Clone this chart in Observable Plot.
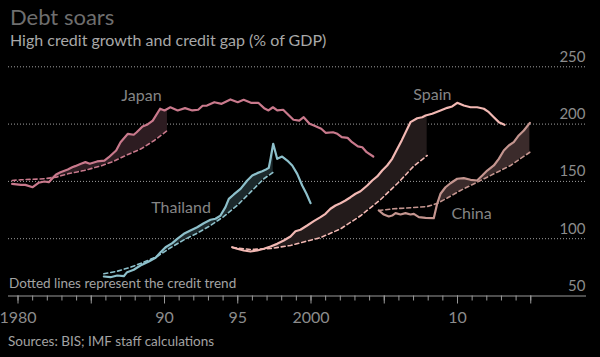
<!DOCTYPE html>
<html><head><meta charset="utf-8">
<script src="https://cdn.jsdelivr.net/npm/d3@7"></script>
<script src="https://cdn.jsdelivr.net/npm/@observablehq/plot@0.6"></script>
<style>
html,body{margin:0;padding:0;background:#000;}
#chart{position:relative;width:600px;height:357px;overflow:hidden;background:#000;}
</style></head><body><div id="chart"></div>
<script>
// [year, % of GDP]
const japanCredit = [[1979.6,147.9],[1980.2,147.0],[1980.5,147.0],[1981.0,144.9],[1981.4,148.8],[1981.8,149.9],[1982.1,149.3],[1982.6,156.0],[1982.9,158.0],[1983.4,160.4],[1983.7,162.4],[1983.9,163.3],[1984.3,165.4],[1984.6,166.8],[1984.9,165.4],[1985.4,167.4],[1985.9,168.2],[1986.2,171.1],[1986.7,177.0],[1987.0,184.2],[1987.5,191.5],[1987.9,190.7],[1988.1,192.9],[1988.5,197.9],[1988.8,199.4],[1989.2,203.1],[1989.7,213.4],[1990.0,211.9],[1990.4,214.7],[1990.9,211.9],[1991.4,213.9],[1991.9,211.9],[1992.3,212.5],[1992.6,216.0],[1992.9,216.2],[1993.4,219.1],[1993.9,217.7],[1994.5,221.5],[1995.0,219.1],[1995.4,221.2],[1995.9,218.6],[1996.4,218.6],[1996.8,213.9],[1997.1,211.9],[1997.4,214.7],[1997.7,211.9],[1998.1,212.5],[1998.5,207.5],[1998.8,203.8],[1999.2,203.1],[1999.5,206.0],[1999.9,200.3],[2000.2,198.8],[2000.7,195.9],[2001.0,192.4],[2001.5,192.9],[2001.8,191.5],[2002.1,188.6],[2002.5,188.0],[2002.8,184.2],[2003.2,180.5],[2003.5,179.8],[2003.8,175.5],[2004.25,171.7]];
const japanTrend = [[1979.6,150.8],[1980.2,151.4],[1981.8,152.3],[1982.6,153.7],[1983.4,156.6],[1984.5,159.5],[1985.6,163.3],[1986.5,167.4],[1987.45,173.2],[1988.4,178.4],[1989.3,185.7],[1990.2,194.4]];

const thailandCredit = [[1985.86,67.0],[1986.31,66.4],[1986.77,67.9],[1987.22,67.3],[1987.45,70.8],[1987.9,72.9],[1988.36,76.6],[1988.93,80.1],[1989.39,83.3],[1989.73,88.2],[1990.07,92.6],[1990.53,96.1],[1990.87,99.9],[1991.32,104.3],[1991.77,107.2],[1992.23,110.0],[1992.68,113.5],[1993.14,116.5],[1993.48,117.4],[1993.82,120.2],[1994.16,127.5],[1994.39,134.8],[1994.73,138.6],[1995.19,143.5],[1995.65,150.8],[1995.99,155.1],[1996.33,157.2],[1996.67,158.9],[1996.89,160.1],[1997.12,161.9],[1997.24,169.7],[1997.42,182.8],[1997.69,169.7],[1998.03,171.7],[1998.38,168.2],[1998.72,163.9],[1999.06,156.6],[1999.4,146.4],[1999.69,139.2],[1999.97,131.0]];
const thailandTrend = [[1985.86,69.4],[1986.77,71.6],[1987.68,75.1],[1988.59,79.5],[1989.5,84.5],[1990.41,92.1],[1991.32,99.0],[1992.23,104.8],[1993.14,111.5],[1994.05,119.4],[1994.96,129.0],[1995.87,140.6],[1996.78,152.3],[1997.42,158.0]];

const spainCredit = [[1994.62,92.6],[1994.96,91.2],[1995.41,89.7],[1995.87,88.8],[1996.33,89.7],[1996.78,91.2],[1997.24,93.2],[1997.69,95.5],[1998.14,98.4],[1998.6,101.9],[1998.94,106.5],[1999.28,107.8],[1999.74,111.5],[2000.19,115.3],[2000.65,118.8],[2000.99,121.7],[2001.33,126.1],[2001.67,129.0],[2002.01,131.0],[2002.35,133.3],[2002.7,136.2],[2003.04,139.2],[2003.38,141.4],[2003.84,146.4],[2004.18,150.8],[2004.52,154.3],[2004.86,159.5],[2005.2,163.9],[2005.54,169.7],[2005.77,175.5],[2006.2,186.0],[2006.79,201.7],[2007.25,205.1],[2007.59,206.0],[2007.82,207.5],[2008.27,209.0],[2008.84,211.9],[2009.3,214.2],[2009.64,215.4],[2009.98,218.6],[2010.43,216.2],[2010.89,214.7],[2011.34,214.7],[2011.8,213.4],[2012.14,210.4],[2012.48,206.0],[2012.82,201.7],[2013.21,199.4]];
const spainTrend = [[1994.64,92.3],[1995.87,90.6],[1997.24,91.4],[1998.6,94.1],[1999.62,97.6],[2000.65,101.0],[2002.01,108.5],[2003.38,120.0],[2004.74,134.0],[2006.04,150.0],[2006.99,163.0],[2007.93,172.6]];

const chinaCredit = [[2004.63,124.6],[2004.97,121.1],[2005.31,119.4],[2005.54,120.2],[2005.77,122.3],[2006.11,121.1],[2006.45,122.3],[2006.79,121.1],[2007.02,121.7],[2007.36,118.8],[2007.82,118.2],[2008.38,117.9],[2008.61,130.5],[2008.84,139.2],[2009.18,144.9],[2009.52,148.4],[2009.98,152.3],[2010.43,152.8],[2010.89,151.4],[2011.34,150.8],[2011.69,155.1],[2012.03,159.5],[2012.48,163.9],[2012.82,169.7],[2013.16,177.0],[2013.5,181.3],[2013.84,184.2],[2014.18,190.1],[2014.53,194.4],[2014.94,201.1]];
const chinaTrend = [[2004.63,124.6],[2005.65,126.1],[2006.79,127.0],[2007.93,128.1],[2008.61,130.7],[2009.3,135.5],[2010.2,142.1],[2011.34,149.3],[2012.48,156.6],[2013.62,163.9],[2014.94,175.5]];

const yTicks = [50, 100, 150, 200, 250];
const xLabelYears = [1980, 1990, 1995, 2000, 2010];
const countryLabels = [
  {name: "Japan", year: 1988.43, value: 220},
  {name: "Thailand", year: 1991.13, value: 122.2},
  {name: "Spain", year: 2008.29, value: 220.6},
  {name: "China", year: 2010.96, value: 117.4}
];

const series = [
  {credit: japanCredit, trend: japanTrend, line: "#c9798c", fill: "#2d1c21"},
  {credit: thailandCredit, trend: thailandTrend, line: "#8dc0cb", fill: "#1c292c"},
  {credit: spainCredit, trend: spainTrend, line: "#f2b8b3", fill: "#231b1b"},
  {credit: chinaCredit, trend: chinaTrend, line: "#c4958f", fill: "#3b2b2b"}
];

function interp(pts, x) {
  if (x <= pts[0][0]) return pts[0][1];
  if (x >= pts[pts.length - 1][0]) return pts[pts.length - 1][1];
  const i = d3.bisector(d => d[0]).right(pts, x);
  const a = pts[i - 1], b = pts[i];
  return a[1] + (b[1] - a[1]) * (x - a[0]) / (b[0] - a[0]);
}
function gapRows(s) {
  const t0 = s.trend[0][0], t1 = s.trend[s.trend.length - 1][0];
  const xs = Array.from(new Set([...s.trend.map(d => d[0]), ...s.credit.map(d => d[0]).filter(x => x > t0 && x < t1)])).sort((a, b) => a - b);
  return xs.map(x => {
    const t = interp(s.trend, x), c = interp(s.credit, x);
    return {x, y1: t, y2: Math.max(c, t)};
  });
}

const marks = [
  Plot.ruleY([100, 150, 200, 250], {stroke: "#a0a0a0", strokeDasharray: "1,2", strokeWidth: 1}),
  Plot.ruleY([50], {stroke: "#9a9a9a", strokeWidth: 1}),
  Plot.axisX(d3.range(1980, 2016), {tickSize: 5, tickFormat: () => "", stroke: "#9a9a9a"}),
  Plot.axisX(d3.range(1980, 2016, 5), {tickSize: 8, tickFormat: () => "", stroke: "#9a9a9a"}),
  Plot.axisX(xLabelYears, {tickSize: 0, tickPadding: 16, fontSize: 16, fill: "#8c8c8c",
    tickFormat: d => (d === 1980 || d === 2000) ? String(d) : String(d).slice(2)}),
  Plot.text(yTicks, {y: d => d, text: d => String(d), frameAnchor: "right", textAnchor: "end", lineAnchor: "bottom", dy: -5, dx: -1, fill: "#8c8c8c", fontSize: 15}),
];
for (const s of series) {
  marks.push(Plot.areaY(gapRows(s), {x: "x", y1: "y1", y2: "y2", fill: s.fill}));
}
for (const s of series) {
  marks.push(Plot.line(s.trend, {x: d => d[0], y: d => d[1], stroke: s.line, strokeWidth: 1.6, strokeDasharray: "4,3"}));
  marks.push(Plot.line(s.credit, {x: d => d[0], y: d => d[1], stroke: s.line, strokeWidth: 2.2, strokeLinejoin: "round"}));
}
marks.push(Plot.text(countryLabels, {x: "year", y: "value", text: "name", lineAnchor: "bottom", fill: "#858585", fontSize: 16}));

const chart = Plot.plot({
  width: 600, height: 357,
  marginLeft: 8, marginRight: 14, marginTop: 40, marginBottom: 61.5,
  style: {background: "#000", fontFamily: "Lato, sans-serif"},
  x: {domain: [1980, 2015], range: [17.5, 530.25]},
  y: {domain: [50, 250], range: [295.5, 66.3], axis: null},
  marks
});

const svg = d3.select(chart);
const notes = svg.append("g").attr("text-anchor", "start");
notes.append("text").attr("x", 10).attr("y", 24.5).attr("font-size", 22).attr("fill", "#6e6e6e").text("Debt soars");
notes.append("text").attr("x", 10).attr("y", 45.5).attr("font-size", 16).attr("fill", "#a8a8a8").text("High credit growth and credit gap (% of GDP)");
notes.append("text").attr("x", 9).attr("y", 288).attr("font-size", 13.5).attr("fill", "#a3a3a3").text("Dotted lines represent the credit trend");
notes.append("text").attr("x", 8).attr("y", 346).attr("font-size", 13.5).attr("fill", "#a3a3a3").text("Sources: BIS; IMF staff calculations");

document.getElementById("chart").appendChild(chart);
</script></body></html>
